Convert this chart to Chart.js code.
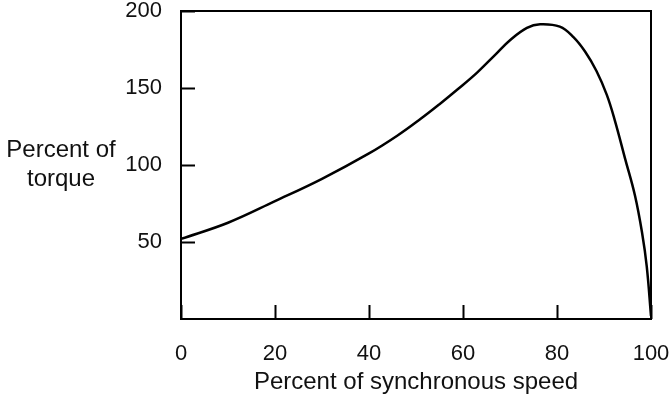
<!DOCTYPE html>
<html>
<head>
    <title>Torque vs speed</title>
    <style>
        html, body {
            margin: 0;
            padding: 0;
            background: #fff;
        }
        #chartBox {
            width: 670px;
            height: 400px;
        }
    </style>
    <script src="https://cdn.jsdelivr.net/npm/chart.js"></script>
</head>
<body>
    <div id="chartBox">
        <canvas id="myChart"></canvas>
    </div>

    <script>
        // values
        let speed  = [0, 10, 20, 30, 40, 46, 51, 55, 59, 63, 67, 70, 73.6, 76.4, 80.6, 83.5, 86, 88.4, 90.6, 92.3, 94.5, 96.6, 98.1, 99.1, 100];
        let torque = [52, 62.5, 76.5, 91, 107.5, 119, 130, 139.5, 149.5, 160, 172, 181, 189, 191.4, 189.8, 183, 173.5, 161, 145.5, 129, 104, 80, 56, 34, 2];
        let xTicks = [0, 20, 40, 60, 80, 100];
        let yTicks = [50, 100, 150, 200];
        let yTitle = ['Percent of', 'torque'];
        let xTitle = 'Percent of synchronous speed';

        let fontName = '"Liberation Sans", Arial, sans-serif';

        let points = speed.map(function(s, i) { return {x: s, y: torque[i]}; });

        // frame, inward ticks and the horizontal y title
        let framePlugin = {
            id: 'frame',
            afterDraw: function(chart) {
                let c = chart.ctx;
                let a = chart.chartArea;
                let xs = chart.scales.x;
                let ys = chart.scales.y;
                c.save();
                c.strokeStyle = '#000';
                c.lineWidth = 2;
                c.strokeRect(a.left, a.top, a.right - a.left, a.bottom - a.top);
                c.beginPath();
                xTicks.forEach(function(v) {
                    let px = Math.round(xs.getPixelForValue(v)) + 0.5;
                    c.moveTo(px, a.bottom);
                    c.lineTo(px, a.bottom - 14);
                });
                yTicks.forEach(function(v) {
                    let py = Math.round(ys.getPixelForValue(v)) + 0.5;
                    c.moveTo(a.left, py);
                    c.lineTo(a.left + 14, py);
                });
                c.stroke();

                c.fillStyle = '#111';
                c.font = '24px ' + fontName;
                c.textAlign = 'center';
                c.textBaseline = 'middle';
                c.fillText(yTitle[0], 61, 150);
                c.fillText(yTitle[1], 61, 179);
                c.restore();
            }
        };

        // drop the automatic room Chart.js keeps for overhanging labels
        function noLabelPadding(scale) {
            scale.paddingLeft = 0;
            scale.paddingRight = 0;
            scale.paddingTop = 0;
            scale.paddingBottom = 0;
        }

        let ctx = document.getElementById('myChart').getContext('2d');
        let myChart = new Chart(ctx, {
            type: 'line',
            data: {
                datasets: [{
                    label: 'Torque',
                    data: points,
                    borderColor: '#000',
                    borderWidth: 2.5,
                    pointRadius: 0,
                    fill: false,
                    tension: 0.4
                }]
            },
            options: {
                responsive: true,
                maintainAspectRatio: false,
                animation: false,
                layout: {
                    padding: {left: 0, right: 19, top: 11, bottom: 0}
                },
                plugins: {
                    legend: {display: false},
                    tooltip: {enabled: false}
                },
                scales: {
                    x: {
                        type: 'linear',
                        min: 0,
                        max: 100,
                        afterFit: function(scale) {
                            scale.height = 81;
                            noLabelPadding(scale);
                        },
                        afterBuildTicks: function(scale) {
                            scale.ticks = xTicks.map(function(v) { return {value: v}; });
                        },
                        grid: {display: false},
                        border: {display: false},
                        ticks: {
                            color: '#111',
                            padding: 14,
                            maxRotation: 0,
                            font: {family: fontName, size: 22}
                        },
                        title: {
                            display: true,
                            text: xTitle,
                            color: '#111',
                            font: {family: fontName, size: 24},
                            padding: {top: 0, bottom: 3}
                        }
                    },
                    y: {
                        min: 0,
                        max: 200,
                        afterFit: function(scale) {
                            scale.width = 181;
                            noLabelPadding(scale);
                        },
                        afterBuildTicks: function(scale) {
                            scale.ticks = yTicks.map(function(v) { return {value: v}; });
                        },
                        grid: {display: false},
                        border: {display: false},
                        ticks: {
                            color: '#111',
                            padding: 11,
                            font: {family: fontName, size: 22}
                        }
                    }
                }
            },
            plugins: [framePlugin]
        });
    </script>
</body>
</html>
